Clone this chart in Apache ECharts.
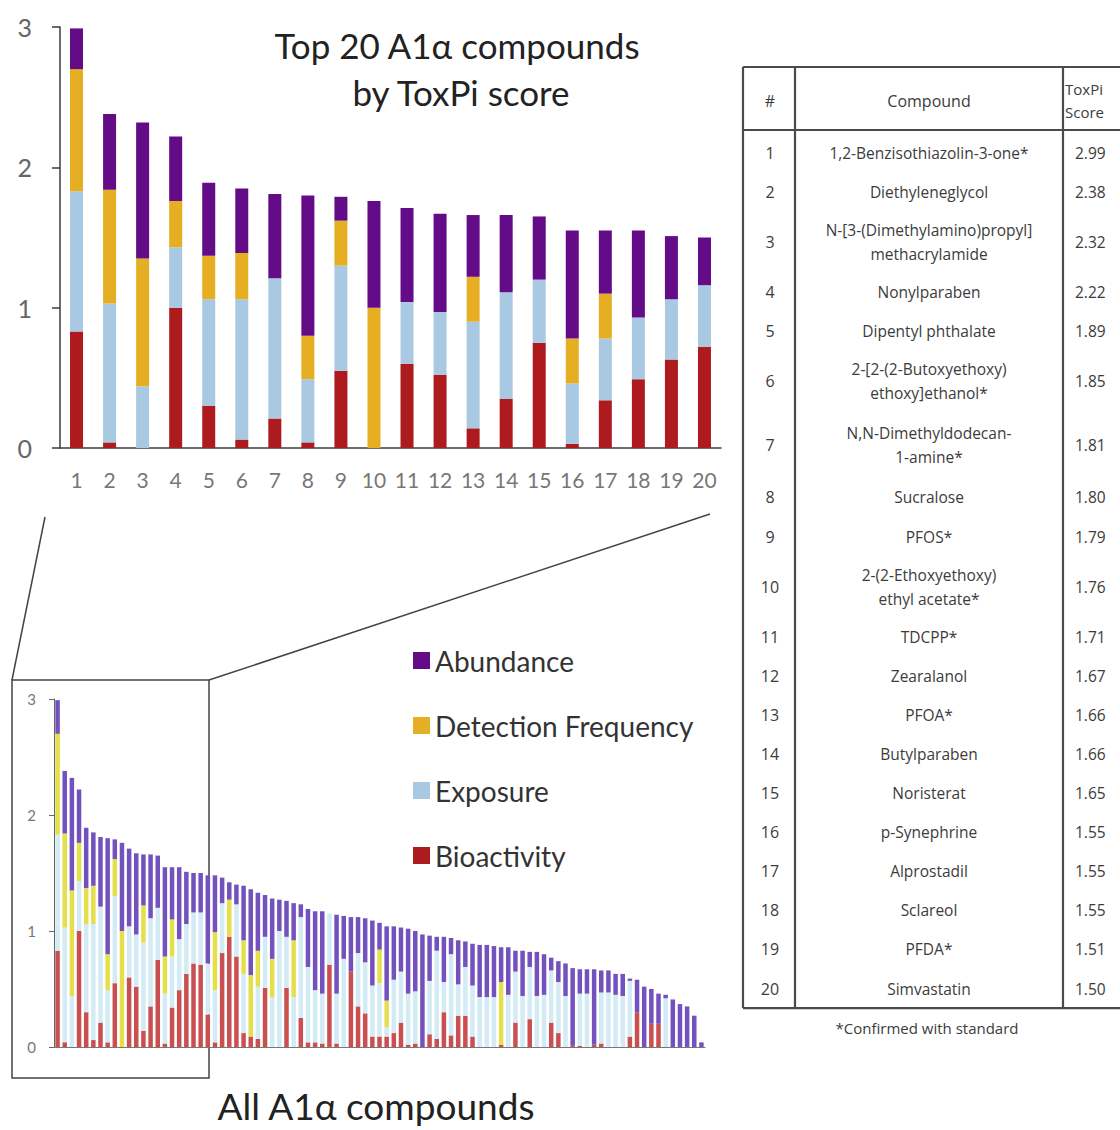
<!DOCTYPE html>
<html>
<head>
<meta charset="utf-8">
<title>ToxPi scores of A1α compounds</title>
<script src="https://cdn.jsdelivr.net/npm/echarts@6/dist/echarts.min.js"></script>
<style>
  html, body { margin: 0; padding: 0; background: #ffffff; }
  #chart { width: 1120px; height: 1130px; }
</style>
</head>
<body>
<div id="chart"></div>
<script>
// ---- Data -------------------------------------------------------------
const sliceNames = ['Abundance', 'Detection Frequency', 'Exposure', 'Bioactivity'];

// Top 20 compounds (rank 1..20), ToxPi slice contributions
const topCategories = ['1','2','3','4','5','6','7','8','9','10','11','12','13','14','15','16','17','18','19','20'];
const topBioactivity = [0.83,0.04,0,1.00,0.30,0.06,0.21,0.04,0.55,0,0.60,0.52,0.14,0.35,0.75,0.03,0.34,0.49,0.63,0.72];
const topExposure    = [1.00,0.99,0.44,0.43,0.76,1.00,1.00,0.45,0.75,0,0.44,0.45,0.76,0.76,0.45,0.43,0.44,0.44,0.43,0.44];
const topDetection   = [0.87,0.81,0.91,0.33,0.31,0.33,0,0.31,0.32,1.00,0,0,0.32,0,0,0.32,0.32,0,0,0];
const topAbundance   = [0.29,0.54,0.97,0.46,0.52,0.46,0.60,1.00,0.17,0.76,0.67,0.70,0.44,0.55,0.45,0.77,0.45,0.62,0.45,0.34];

// Remaining compounds (rank 21..91)
const restBioactivity = [0.71,0.28,0.04,0.81,0.95,0.78,0.12,0.09,0.07,0.51, 0,0,0.51,0,0.25,0.04,0.04,0.03,0.71,0.03,
  0,0.65,0.35,0.29,0.09,0.09,0.09,0.12,0.21,0.02, 0.03,0,0.11,0.07,0.30,0.10,0.27,0.27,0.09,0,
  0,0,0.02,0,0.21,0,0.24,0,0,0.21, 0.12,0,0.01,0.01,0,0.02,0.03,0,0,0,
  0.09,0.30,0,0.20,0.20,0,0,0,0,0, 0];
const restExposure = [0.45,0.44,0.45,0.43,0,0.45,0.51,0,0.45,0.44, 0.43,1.00,0.44,0.43,0.87,0.65,0.45,0.43,0.44,0.43,
  0.76,0,0.46,0.44,0.44,0.46,0.08,0.46,0.44,0.44, 0.45,0,0.46,0.76,0.26,0.70,0.27,0.42,0.44,0.43,
  0.43,0.43,0,0.45,0.44,0.44,0.45,0.44,0.45,0.45, 0.44,0.44,0,0.45,0.46,0,0.44,0.47,0.45,0.44,
  0.48,0,0,0,0,0.42,0,0,0,0, 0];
const restDetection = [0,0,0.50,0,0.32,0,0.29,0.53,0.31,0, 0.33,0,0,0.49,0,0,0,0,0,0,
  0,0,0,0,0,0.29,0.23,0,0,0, 0,0,0,0,0,0,0,0,0,0,
  0,0,0.54,0,0,0,0,0,0,0, 0,0,0,0,0,0,0,0,0,0,
  0,0,0,0,0,0,0,0,0,0, 0];
const restAbundance = [0.34,0.76,0.49,0.22,0.15,0.17,0.47,0.74,0.50,0.36, 0.52,0.27,0.31,0.32,0.11,0.50,0.68,0.71,0,0.68,
  0.37,0.47,0.31,0.38,0.56,0.23,0.64,0.46,0.38,0.56, 0.52,0.97,0.39,0.12,0.39,0.14,0.38,0.22,0.36,0.45,
  0.45,0.44,0.30,0.41,0.18,0.39,0.13,0.38,0.35,0.11, 0.18,0.28,0.67,0.21,0.21,0.65,0.19,0.19,0.18,0.19,
  0.02,0.28,0.52,0.30,0.26,0.03,0.41,0.37,0.35,0.27, 0.04];

// Table of the top 20
const compoundNames = [
  '1,2-Benzisothiazolin-3-one*', 'Diethyleneglycol', 'N-[3-(Dimethylamino)propyl]\nmethacrylamide',
  'Nonylparaben', 'Dipentyl phthalate', '2-[2-(2-Butoxyethoxy)\nethoxy]ethanol*',
  'N,N-Dimethyldodecan-\n1-amine*', 'Sucralose', 'PFOS*', '2-(2-Ethoxyethoxy)\nethyl acetate*',
  'TDCPP*', 'Zearalanol', 'PFOA*', 'Butylparaben', 'Noristerat', 'p-Synephrine',
  'Alprostadil', 'Sclareol', 'PFDA*', 'Simvastatin'
];
const toxpiScores = ['2.99','2.38','2.32','2.22','1.89','1.85','1.81','1.80','1.79','1.76',
  '1.71','1.67','1.66','1.66','1.65','1.55','1.55','1.55','1.51','1.50'];

const yTicks = [0, 1, 2, 3];

// ---- Derived series for the full ranking ---------------------------------
const allBioactivity = topBioactivity.concat(restBioactivity);
const allExposure = topExposure.concat(restExposure);
const allDetection = topDetection.concat(restDetection);
const allAbundance = topAbundance.concat(restAbundance);
const allCategories = allAbundance.map((_, i) => String(i + 1));

// ---- Styling ---------------------------------------------------------------
const FONT = 'Lato, "Open Sans", sans-serif';
const TABLE_FONT = '"Open Sans", Lato, sans-serif';
const topColors = { Abundance: '#640c88', 'Detection Frequency': '#e6ae22', Exposure: '#a9c8e2', Bioactivity: '#ae1b1f' };
const allColors = { Abundance: '#7352bd', 'Detection Frequency': '#e4df4a', Exposure: '#d3ebf5', Bioactivity: '#c94f50' };

function stackSeries(name, data, axis, stack, color, width) {
  return {
    name: name, type: 'bar', stack: stack,
    xAxisIndex: axis, yAxisIndex: axis,
    barWidth: width, data: data,
    itemStyle: { color: color },
    emphasis: { disabled: true }
  };
}

const series = [
  stackSeries('Bioactivity', topBioactivity, 0, 'top', topColors.Bioactivity, 13),
  stackSeries('Exposure', topExposure, 0, 'top', topColors.Exposure, 13),
  stackSeries('Detection Frequency', topDetection, 0, 'top', topColors['Detection Frequency'], 13),
  stackSeries('Abundance', topAbundance, 0, 'top', topColors.Abundance, 13),
  stackSeries('Bioactivity', allBioactivity, 1, 'all', allColors.Bioactivity, 4.5),
  stackSeries('Exposure', allExposure, 1, 'all', allColors.Exposure, 4.5),
  stackSeries('Detection Frequency', allDetection, 1, 'all', allColors['Detection Frequency'], 4.5),
  stackSeries('Abundance', allAbundance, 1, 'all', allColors.Abundance, 4.5)
];

// ---- Table, titles and zoom guides (graphic layer) -------------------------
const graphics = [];
function txt(x, y, text, size, color, align, family, extra) {
  const style = Object.assign({
    text: text, x: x, y: y,
    font: size + 'px ' + (family || FONT), fill: color,
    align: align || 'center', textAlign: align || 'center',
    verticalAlign: 'middle', textVerticalAlign: 'middle'
  }, extra || {});
  graphics.push({ type: 'text', silent: true, style: style });
}
function seg(x1, y1, x2, y2, color, w) {
  graphics.push({ type: 'line', silent: true, shape: { x1: x1, y1: y1, x2: x2, y2: y2 },
    style: { stroke: color, lineWidth: w } });
}

// chart titles
txt(457, 45, 'Top 20 A1\u03b1 compounds', 35, '#222');
txt(461, 92, 'by ToxPi score', 35, '#222');
txt(376, 1105, 'All A1\u03b1 compounds', 37, '#222');

// zoom box around the first 20 bars and its guide lines
graphics.push({ type: 'rect', silent: true, shape: { x: 12, y: 680, width: 197, height: 398 },
  style: { fill: 'none', stroke: '#444', lineWidth: 1.5 } });
seg(45, 517, 12, 680, '#444', 1.5);
seg(209, 680, 710, 514, '#444', 1.5);

// table
const T = { left: 743, colA: 795, colB: 1063, right: 1126, top: 67, header: 130, rowStart: 133.5 };
const rowHeights = [39.1, 39.1, 61, 39.1, 39.1, 61, 66, 39.1, 39.1, 61,
  39.1, 39.1, 39.1, 39.1, 39.1, 39.1, 39.1, 39.1, 39.1, 39.1];
let yCursor = T.rowStart;
const rowCenters = rowHeights.map(h => { const c = yCursor + h / 2; yCursor += h; return c; });
const tableBottom = yCursor;
const border = '#4a4a4a';
seg(T.left, T.top, T.right, T.top, border, 2.2);
seg(T.left, T.header, T.right, T.header, border, 2.2);
seg(T.left, tableBottom, T.right, tableBottom, border, 2.2);
seg(T.left, T.top, T.left, tableBottom, border, 2.2);
seg(T.colA, T.top, T.colA, tableBottom, border, 2.2);
seg(T.colB, T.top, T.colB, tableBottom, border, 2.2);

const tc = '#3c3c3c';
txt(770, 101, '#', 16, tc, 'center', TABLE_FONT);
txt(929, 101, 'Compound', 16, tc, 'center', TABLE_FONT);
txt(1065, 89, 'ToxPi', 15, tc, 'left', TABLE_FONT);
txt(1065, 112, 'Score', 15, tc, 'left', TABLE_FONT);
compoundNames.forEach((name, i) => {
  const y = rowCenters[i];
  txt(770, y, topCategories[i], 16, tc, 'center', TABLE_FONT);
  txt(929, y, name, 15.5, tc, 'center', TABLE_FONT, { lineHeight: 24 });
  txt(1075, y, toxpiScores[i], 15.5, tc, 'left', TABLE_FONT);
});
txt(927, 1028, '*Confirmed with standard', 15, tc, 'center', TABLE_FONT);

// ---- Chart -------------------------------------------------------------------
const chart = echarts.init(document.getElementById('chart'), null, { renderer: 'svg' });
chart.setOption({
  animation: false,
  backgroundColor: '#ffffff',
  textStyle: { fontFamily: FONT },
  legend: {
    orient: 'vertical', left: 408, top: 641,
    icon: 'rect', itemWidth: 17, itemHeight: 17, itemGap: 36,
    data: sliceNames,
    textStyle: { fontSize: 28, color: '#333', fontFamily: FONT, lineHeight: 29 }
  },
  grid: [
    { left: 60, top: 27, width: 661, height: 421 },
    { left: 54, top: 699, width: 651, height: 348 }
  ],
  xAxis: [
    {
      type: 'category', gridIndex: 0, data: topCategories,
      axisLine: { lineStyle: { color: '#3c3c3c', width: 1.5 } },
      axisTick: { show: false },
      axisLabel: { fontSize: 21, color: '#777', margin: 21, interval: 0, fontFamily: FONT }
    },
    {
      type: 'category', gridIndex: 1, data: allCategories,
      axisLine: { lineStyle: { color: '#777', width: 1 } },
      axisTick: { show: false },
      axisLabel: { show: false }
    }
  ],
  yAxis: [
    {
      type: 'value', gridIndex: 0, min: yTicks[0], max: yTicks[yTicks.length - 1], interval: 1,
      axisLine: { show: true, lineStyle: { color: '#3c3c3c', width: 1.5 } },
      axisTick: { show: true, length: 8, lineStyle: { color: '#3c3c3c', width: 1.5 } },
      splitLine: { show: false },
      axisLabel: { fontSize: 25, color: '#666', margin: 28, fontFamily: FONT }
    },
    {
      type: 'value', gridIndex: 1, min: yTicks[0], max: yTicks[yTicks.length - 1], interval: 1,
      axisLine: { show: true, lineStyle: { color: '#666', width: 1 } },
      axisTick: { show: true, length: 5, lineStyle: { color: '#666' } },
      splitLine: { show: false },
      axisLabel: { fontSize: 15, color: '#777', margin: 18, fontFamily: FONT }
    }
  ],
  series: series,
  graphic: graphics
});
</script>
</body>
</html>
